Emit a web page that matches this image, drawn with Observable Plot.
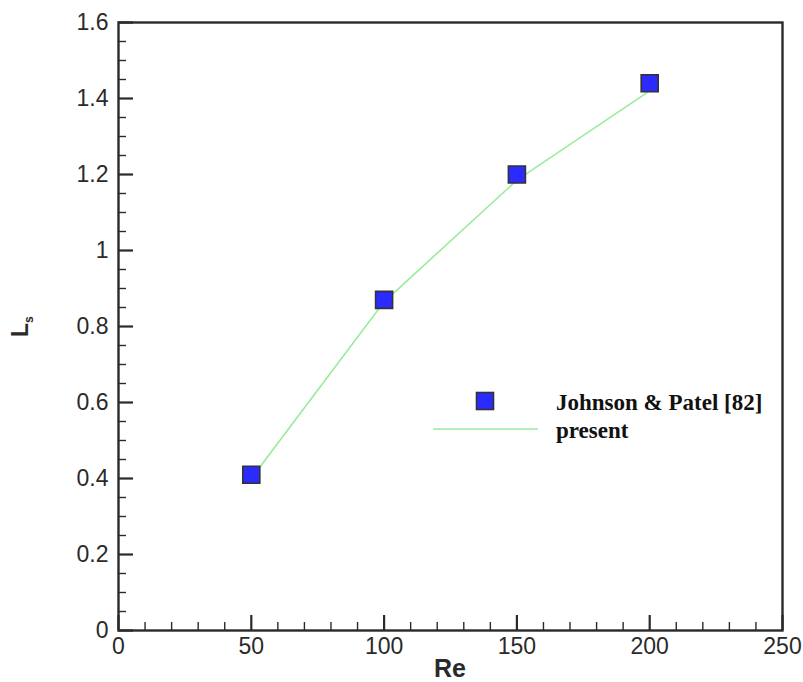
<!DOCTYPE html>
<html>
<head>
<meta charset="utf-8">
<script src="https://cdn.jsdelivr.net/npm/d3@7"></script>
<script src="https://cdn.jsdelivr.net/npm/@observablehq/plot@0.6"></script>
<style>
  html, body { margin: 0; padding: 0; background: #fff; }
  #chart { width: 803px; height: 682px; }
</style>
</head>
<body>
<div id="chart"></div>
<script>
// Data
const reynolds = [50, 100, 150, 200];
const johnsonPatel = [0.41, 0.87, 1.20, 1.44];
const present = [0.40, 0.865, 1.185, 1.42];

const seriesNames = ["Johnson & Patel [82]", "present"];

const xMajorTicks = [0, 50, 100, 150, 200, 250];
const xMinorTicks = d3.range(0, 251, 10).filter(v => v % 50 !== 0);
const yMajorTicks = [0, 0.2, 0.4, 0.6, 0.8, 1.0, 1.2, 1.4, 1.6];
const yTickLabels = ["0", "0.2", "0.4", "0.6", "0.8", "1", "1.2", "1.4", "1.6"];
const yMinorTicks = d3.range(0, 33).map(i => i * 0.05).filter((v, i) => i % 4 !== 0);

const jpData = reynolds.map((x, i) => ({x, y: johnsonPatel[i]}));
const presentData = reynolds.map((x, i) => ({x, y: present[i]}));

const axisColor = "#2a2a2a";
const lineColor = "#9beb9b";
const squareFill = "#2b2bff";

const plot = Plot.plot({
  width: 803,
  height: 682,
  marginLeft: 118,
  marginRight: 21,
  marginTop: 22,
  marginBottom: 52,
  style: {fontFamily: "'Liberation Sans', Arial, sans-serif", fontSize: "23px", color: axisColor, background: "#fff"},
  x: {domain: [0, 250]},
  y: {domain: [0, 1.6]},
  marks: [
    Plot.line(presentData, {x: "x", y: "y", stroke: lineColor, strokeWidth: 1.6}),
    Plot.dot(jpData, {x: "x", y: "y", symbol: "square", r: 9.6, fill: squareFill, stroke: "#333", strokeWidth: 1.6}),
    // inward ticks
    Plot.axisX(xMajorTicks, {tickSize: -15, tickFormat: () => "", stroke: axisColor, strokeWidth: 2.2, label: null}),
    Plot.axisX(xMinorTicks, {tickSize: -8, tickFormat: () => "", stroke: axisColor, strokeWidth: 1.4, label: null}),
    Plot.axisY(yMajorTicks, {tickSize: -15, tickFormat: () => "", stroke: axisColor, strokeWidth: 2.2, label: null}),
    Plot.axisY(yMinorTicks, {tickSize: -8, tickFormat: () => "", stroke: axisColor, strokeWidth: 1.4, label: null}),
    // tick labels
    Plot.axisX(xMajorTicks, {tickSize: 0, tickPadding: 7, tickFormat: d => String(d), fill: axisColor, label: null}),
    Plot.axisY(yMajorTicks, {tickSize: 0, tickPadding: 10, tickFormat: (d, i) => yTickLabels[i], fill: axisColor, label: null}),
    Plot.frame({stroke: axisColor, strokeWidth: 2.4})
  ]
});

document.getElementById("chart").appendChild(plot);

const svg = d3.select(plot);

// Axis titles
svg.append("text")
  .attr("x", 450).attr("y", 677)
  .attr("text-anchor", "middle")
  .attr("font-family", "'Liberation Sans', Arial, sans-serif")
  .attr("font-weight", "bold").attr("font-size", 25)
  .attr("fill", axisColor)
  .text("Re");

const yt = svg.append("text")
  .attr("transform", "translate(28,337) rotate(-90)")
  .attr("text-anchor", "start")
  .attr("font-family", "'Liberation Sans', Arial, sans-serif")
  .attr("font-weight", "bold").attr("font-size", 23)
  .attr("fill", axisColor);
yt.append("tspan").text("L");
yt.append("tspan").attr("font-size", 12).attr("dy", 5).text("s");

// Legend
const lg = svg.append("g")
  .attr("font-family", "'Liberation Serif', 'Times New Roman', serif")
  .attr("font-weight", "bold").attr("font-size", 23)
  .attr("text-anchor", "start")
  .attr("fill", "#111");
lg.append("rect")
  .attr("x", 476.5).attr("y", 392.5).attr("width", 17).attr("height", 17)
  .attr("fill", squareFill).attr("stroke", "#333").attr("stroke-width", 1.6);
lg.append("line")
  .attr("x1", 433).attr("x2", 538).attr("y1", 429).attr("y2", 429)
  .attr("stroke", lineColor).attr("stroke-width", 1.6);
lg.append("text").attr("x", 556).attr("y", 410).attr("text-anchor", "start").text(seriesNames[0]);
lg.append("text").attr("x", 556).attr("y", 438).attr("text-anchor", "start").text(seriesNames[1]);
</script>
</body>
</html>
